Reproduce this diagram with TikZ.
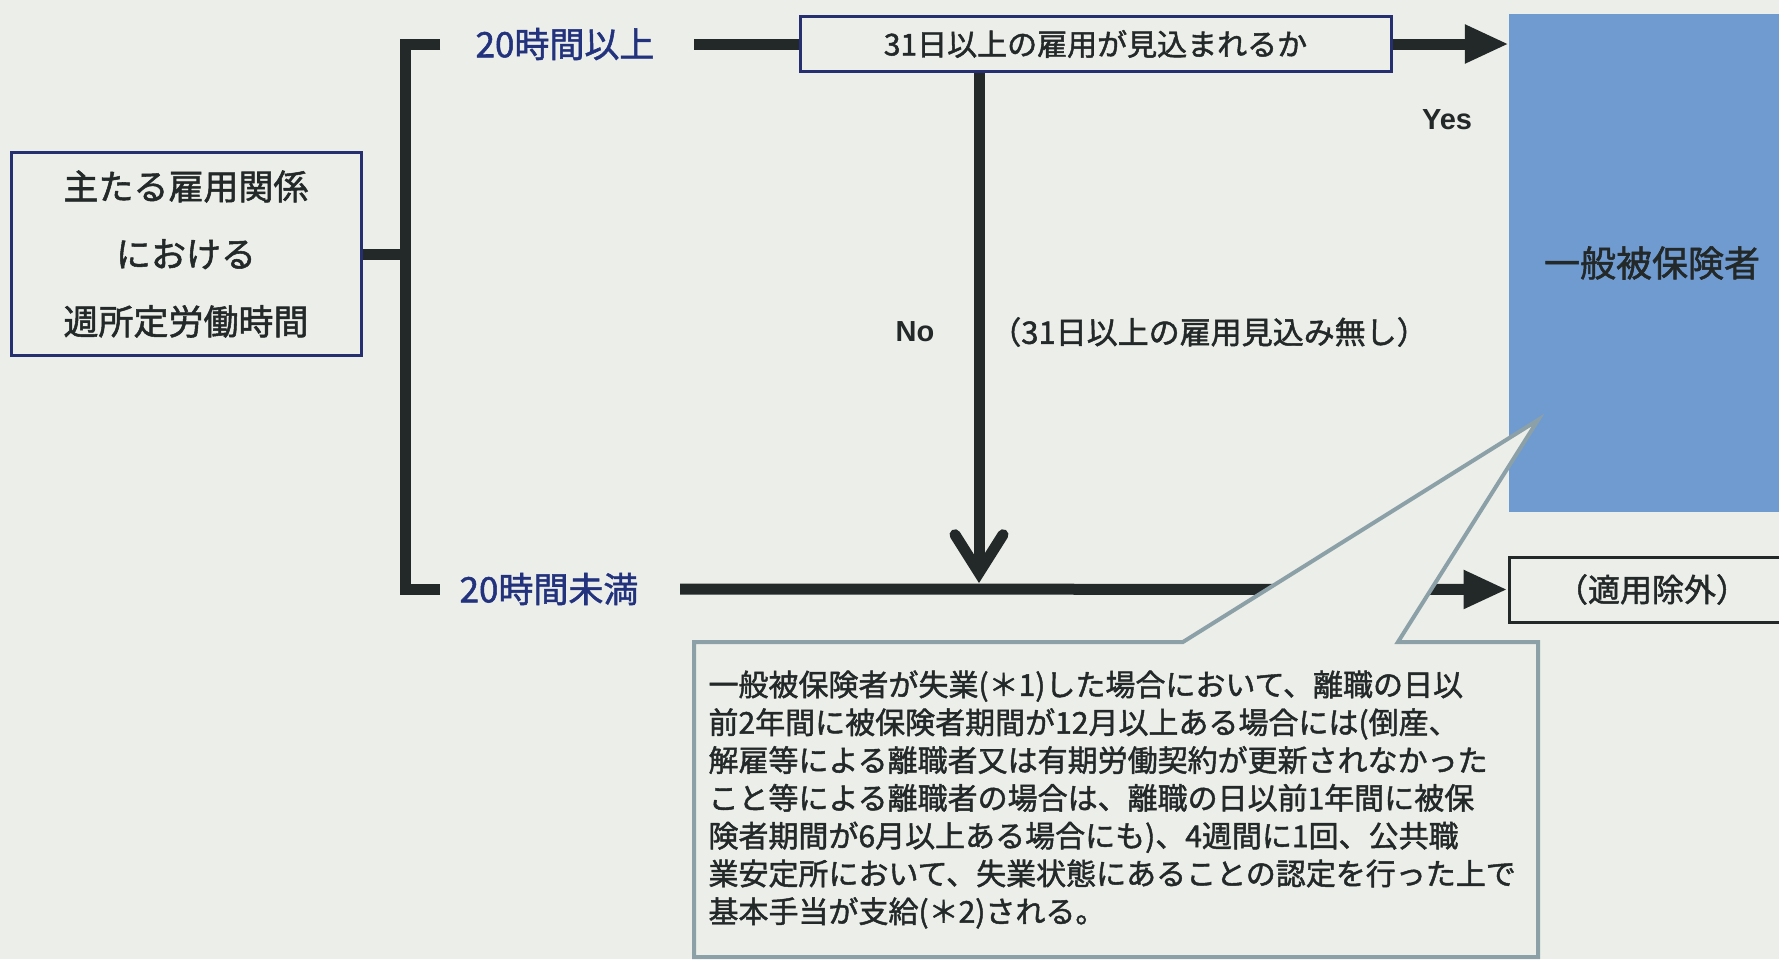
\documentclass[tikz,border=0pt]{standalone}
\usepackage{fontspec}
\setmainfont{Noto Sans CJK JP}[FakeBold=1.5]
\newfontfamily\latinfont{Liberation Sans}
\usetikzlibrary{arrows.meta,shapes.callouts}
\definecolor{paper}{RGB}{236,238,233}
\definecolor{ink}{RGB}{35,40,40}
\definecolor{navy}{RGB}{38,48,112}
\definecolor{labelblue}{RGB}{35,50,125}
\definecolor{insured}{RGB}{111,155,209}
\definecolor{callgray}{RGB}{140,160,168}

\begin{document}
\begin{tikzpicture}[x=1pt,y=-1pt]
  \tikzset{BoxStyle/.style = {
    shape         = rectangle,
    draw          = navy,
    line width    = 3pt,
    text          = ink,
    inner sep     = 0pt,
    align         = center
    }
  }
  \tikzset{EdgeStyle/.style = {
    draw          = ink,
    line width    = 11pt
    }
  }
  \tikzset{LabelStyle/.style = {
    text          = labelblue,
    inner sep     = 0pt,
    font          = \fontsize{35}{40}\selectfont
    }
  }
  \tikzset{AnswerStyle/.style = {
    text          = ink,
    inner sep     = 0pt,
    font          = \latinfont\bfseries\fontsize{29}{33}\selectfont
    }
  }
  \tikzset{ArrowTip/.style = {-{Triangle[length=44pt,width=36pt]}}}

  \fill[paper] (0,0) rectangle (1779,959);
  \useasboundingbox (0,0) rectangle (1779,959);

	\node[BoxStyle, minimum width=350pt, minimum height=203pt, font=\fontsize{35}{67.5}\selectfont](A1) at (186, 254) {主たる雇用関係\\における\\週所定労働時間};
	\node[LabelStyle](B1) at (565, 44) {20時間以上};
	\node[LabelStyle](B2) at (549, 589) {20時間未満};
	\node[BoxStyle, minimum width=591pt, minimum height=55pt, font=\fontsize{30}{34}\selectfont](C1) at (1095.5, 44) {31日以上の雇用が見込まれるか};
	\node[fill=insured, inner sep=0pt, minimum width=286pt, minimum height=498pt, text=ink, font=\fontsize{36}{40}\selectfont](D1) at (1652, 263) {一般被保険者};
	\node[BoxStyle, draw=ink, minimum width=286pt, minimum height=65pt, font=\fontsize{32}{36}\selectfont](D2) at (1652, 589.5) {（適用除外）};
	\node[AnswerStyle](Y1) at (1447, 120) {Yes};
	\node[AnswerStyle](N1) at (915, 332) {No};
	\node[text=ink, inner sep=0pt, font=\fontsize{31}{35}\selectfont](N2) at (1209, 332) {（31日以上の雇用見込み無し）};

	\coordinate (K1) at (405, 44);
	\coordinate (K2) at (405, 589);
	\coordinate (T1) at (440, 44);
	\coordinate (T2) at (440, 589);
	\coordinate (S1) at (694, 44);
	\coordinate (S2) at (680, 589);
	\coordinate (M1) at (979, 583);

	\draw[EdgeStyle](T1) -- (K1) -- (K2) -- (T2);
	\draw[EdgeStyle](A1.east) -- (A1.east -| K1);
	\draw[EdgeStyle](S1) -- (C1.west);
	\draw[EdgeStyle, ArrowTip](C1.east) -- (C1.east -| D1.west);
	\draw[EdgeStyle, -{Straight Barb[length=38pt,width=48pt,line cap=round]}](C1.south -| M1) -- (M1);
	\draw[EdgeStyle, ArrowTip](S2) -- (D2.west);

	\node[rectangle callout, draw=callgray, line width=4pt, fill=paper, text=ink,
	  callout absolute pointer={(1538, 420)}, callout pointer width=215pt,
	  minimum width=844pt, minimum height=315pt, inner xsep=14.5pt,
	  text width=815pt, align=left, font=\fontsize{30}{37.8}\selectfont](E1) at (1116, 799.5)
	  {一般被保険者が失業(＊1)した場合において、離職の日以\\
	   前2年間に被保険者期間が12月以上ある場合には(倒産、\\
	   解雇等による離職者又は有期労働契約が更新されなかった\\
	   こと等による離職者の場合は、離職の日以前1年間に被保\\
	   険者期間が6月以上ある場合にも)、4週間に1回、公共職\\
	   業安定所において、失業状態にあることの認定を行った上で\\
	   基本手当が支給(＊2)される。};

\end{tikzpicture}
\end{document}
